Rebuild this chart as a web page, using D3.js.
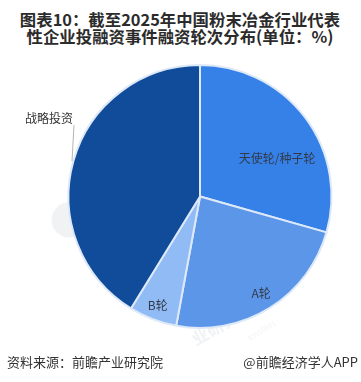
<!DOCTYPE html>
<html>
<head>
<meta charset="utf-8">
<script src="https://cdn.jsdelivr.net/npm/d3@7"></script>
<style>
  html, body { margin: 0; padding: 0; background: #fff; }
  text { font-family: "Noto Sans CJK SC", sans-serif; }
</style>
</head>
<body>
<div class="chart"></div>
<script>
const svgWidth = 361;
const svgHeight = 382;

const categories = ["天使轮/种子轮", "A轮", "B轮", "战略投资"];
const shares = [29.4, 23.5, 5.9, 41.2];
const sliceColors = ["#3581e8", "#5c96e8", "#90bbf5", "#114c9b"];
const titleLines = ["图表10：截至2025年中国粉末冶金行业代表", "性企业投融资事件融资轮次分布(单位：%)"];

const svg = d3.select(".chart")
  .append("svg")
  .attr("width", svgWidth)
  .attr("height", svgHeight)
  .style("display", "block");

// title, both lines in one text element
svg.append("text")
  .attr("text-anchor", "middle")
  .attr("font-size", 16.4)
  .attr("font-weight", 700)
  .attr("fill", "#2b2b2b")
  .selectAll("tspan")
  .data(titleLines)
  .enter()
  .append("tspan")
  .attr("x", 180)
  .attr("y", (d, i) => 26 + i * 17)
  .text(d => d);

// faint watermark, behind the pie
const watermark = svg.append("g")
  .attr("fill", "#8a93a3")
  .attr("opacity", 0.12);

watermark.append("circle")
  .attr("cx", 69)
  .attr("cy", 220)
  .attr("r", 17.5);

watermark.append("text")
  .attr("transform", "translate(196, 346) rotate(-30)")
  .attr("font-size", 17)
  .attr("font-weight", 700)
  .text("业研究院");

watermark.append("text")
  .attr("transform", "translate(250, 341) rotate(-32)")
  .attr("font-size", 7)
  .text("83959991");

const radius = 131.5;
const pieGroup = svg.append("g")
  .attr("transform", "translate(200, 196.5)");

const pie = d3.pie().sort(null)(shares);
const arc = d3.arc().innerRadius(0).outerRadius(radius);

pieGroup.selectAll("path")
  .data(pie)
  .enter()
  .append("path")
  .attr("d", arc)
  .attr("fill", (d, i) => sliceColors[i])
  .attr("stroke", "#dde9f8")
  .attr("stroke-width", 2)
  .attr("stroke-linejoin", "round");

// label placement inside the slices: radius share and turn from the slice middle
const labelRadius = [0.65, 0.88, 0.895];
const labelTurn = [0.2, 0, 0];
pieGroup.selectAll(".slice-label")
  .data(pie.slice(0, 3))
  .enter()
  .append("text")
  .attr("class", "slice-label")
  .attr("transform", (d, i) => {
    const mid = (d.startAngle + d.endAngle) / 2 + labelTurn[i];
    return `translate(${d3.pointRadial(mid, radius * labelRadius[i])})`;
  })
  .attr("text-anchor", "middle")
  .attr("dominant-baseline", "middle")
  .attr("font-size", 12)
  .attr("fill", "#333a4a")
  .text((d, i) => categories[i]);

// outside label with its leader line
svg.append("path")
  .attr("d", "M74,125L72,161")
  .attr("fill", "none")
  .attr("stroke", "#b5b5b5");

svg.append("text")
  .attr("x", 49)
  .attr("y", 120)
  .attr("text-anchor", "middle")
  .attr("dominant-baseline", "middle")
  .attr("font-size", 12)
  .attr("fill", "#333")
  .text(categories[3]);

// footer
svg.append("text")
  .attr("x", 7)
  .attr("y", 367)
  .attr("font-size", 13)
  .attr("fill", "#333")
  .text("资料来源：前瞻产业研究院");

svg.append("text")
  .attr("x", 358)
  .attr("y", 367)
  .attr("text-anchor", "end")
  .attr("font-size", 13)
  .attr("fill", "#333")
  .text("@前瞻经济学人APP");
</script>
</body>
</html>
